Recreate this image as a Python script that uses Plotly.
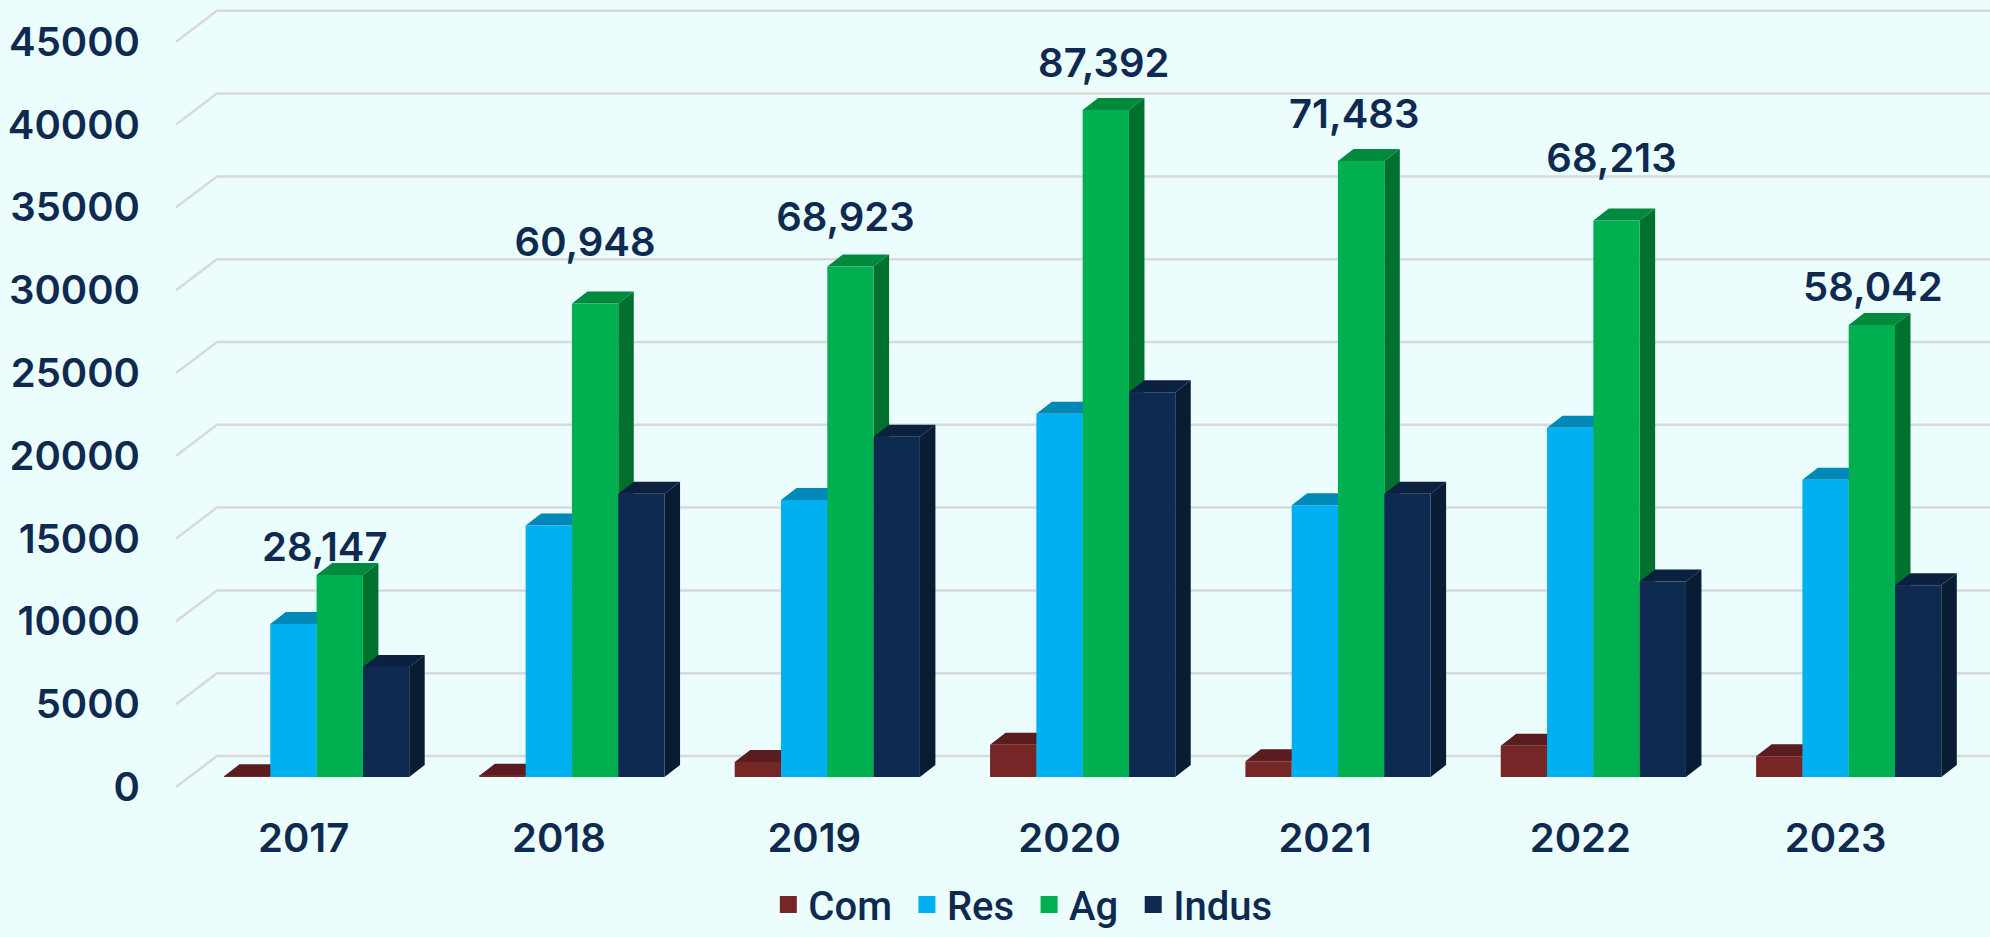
import plotly.graph_objects as go

years = [2017, 2018, 2019, 2020, 2021, 2022, 2023]
com = [50, 70, 900, 1940, 950, 1890, 1250]
res = [9240, 15180, 16720, 21930, 16410, 21090, 17950]
ag = [12200, 28600, 30830, 40280, 37200, 33600, 27300]
indus = [6650, 17100, 20550, 23240, 17100, 11810, 11580]
totals = ["28,147", "60,948", "68,923", "87,392", "71,483", "68,213", "58,042"]
label_y = [14260, 32690, 34170, 43490, 40400, 37730, 29970]
y_ticks = [0, 5000, 10000, 15000, 20000, 25000, 30000, 35000, 40000, 45000]

series = [
    ("Com", com, "#772627", "#5A1C1F", "#4A1518"),
    ("Res", res, "#00B0F0", "#0088B8", "#006F99"),
    ("Ag", ag, "#00B050", "#008A3E", "#00702F"),
    ("Indus", indus, "#0F2A50", "#0C2140", "#081C33"),
]

BG = "#EBFDFD"
INK = "#0F2A50"
FONT = "Inter"

# pixel geometry of the pseudo-3D plot
PX_PER_UNIT_Y = 82.8 / 5000
PX_PER_YEAR = 255.35
Y0_PX, PLOT_BOTTOM = 787, 800
X_LEFT, X_YEAR0 = 176, 303.6
xr = [2017 - (X_YEAR0 - X_LEFT) / PX_PER_YEAR, 2017 + (1990 - X_YEAR0) / PX_PER_YEAR]
yr = [(Y0_PX - PLOT_BOTTOM) / PX_PER_UNIT_Y, Y0_PX / PX_PER_UNIT_Y]

bar_w = 46.3 / PX_PER_YEAR
bar_start = (224 - X_YEAR0) / PX_PER_YEAR
depth_x = 15.5 / PX_PER_YEAR
depth_y = 12 * 1 / PX_PER_UNIT_Y
base = 10 / PX_PER_UNIT_Y
wall_x = 41 / PX_PER_YEAR
wall_y = 31 / PX_PER_UNIT_Y

fig = go.Figure()

# gridlines: front-left stub plus back wall
gx, gy = [], []
for t in y_ticks:
    gx += [xr[0], xr[0] + wall_x, xr[1], None]
    gy += [t, t + wall_y, t + wall_y, None]
fig.add_trace(go.Scatter(x=gx, y=gy, mode="lines", line=dict(color="#D9D9D9", width=2.5),
                         showlegend=False, hoverinfo="skip"))

# top and side faces, painted left to right
for k, (name, vals, front, top, side) in enumerate(series):
    off = bar_start + k * bar_w
    sx, sy, tx, ty = [], [], [], []
    for yr_, v in zip(years, vals):
        x0 = yr_ + off
        x1 = x0 + bar_w
        h = base + v
        sx += [x1, x1 + depth_x, x1 + depth_x, x1, x1, None]
        sy += [base, base + depth_y, h + depth_y, h, base, None]
        tx += [x0, x1, x1 + depth_x, x0 + depth_x, x0, None]
        ty += [h, h, h + depth_y, h + depth_y, h, None]
    fig.add_trace(go.Scatter(x=sx, y=sy, mode="lines", fill="toself", fillcolor=side,
                             line=dict(width=0, color=side), showlegend=False, hoverinfo="skip"))
    fig.add_trace(go.Scatter(x=tx, y=ty, mode="lines", fill="toself", fillcolor=top,
                             line=dict(width=0, color=top), showlegend=False, hoverinfo="skip"))

# front faces, on an overlaid subplot so they cover the neighbours' faces
for k, (name, vals, front, top, side) in enumerate(series):
    fig.add_trace(go.Bar(x=years, y=vals, base=base, width=bar_w, offset=bar_start + k * bar_w,
                         name=name, marker=dict(color=front, line=dict(width=0)),
                         xaxis="x2", yaxis="y2", showlegend=False))
    # legend swatch
    fig.add_trace(go.Bar(x=[None], y=[None], name=name + "\u00a0",
                         marker=dict(color=front, line=dict(width=5, color=front)),
                         xaxis="x2", yaxis="y2"))

label_x = [y + bar_start + 2.5 * bar_w + d / PX_PER_YEAR for y, d in
           zip(years, [-15, -10, -5, -2, -7, -5, 1])]
fig.add_trace(go.Scatter(x=label_x, y=label_y, text=totals, mode="text",
                         textposition="middle center",
                         textfont=dict(family=FONT, size=40, color=INK, weight=600),
                         xaxis="x2", yaxis="y2", showlegend=False, hoverinfo="skip"))

fig.update_layout(
    width=1990, height=937, paper_bgcolor=BG, plot_bgcolor=BG,
    margin=dict(l=X_LEFT, r=0, t=0, b=937 - PLOT_BOTTOM, autoexpand=False),
    barmode="overlay",
    font=dict(family=FONT, color=INK),
    xaxis=dict(range=xr, tickmode="array", tickvals=years, ticktext=[str(y) for y in years],
               showgrid=False, zeroline=False, showline=False, ticks="",
               ticklabelstandoff=11, tickfont=dict(family=FONT, size=40, color=INK, weight=600),
               fixedrange=True),
    yaxis=dict(range=yr, tickmode="array", tickvals=y_ticks, ticktext=[str(t) for t in y_ticks],
               showgrid=False, zeroline=False, showline=False, ticks="",
               ticklabelstandoff=35, tickfont=dict(family=FONT, size=40, color=INK, weight=600),
               fixedrange=True),
    xaxis2=dict(range=xr, overlaying="x", visible=False, fixedrange=True),
    yaxis2=dict(range=yr, overlaying="y", visible=False, fixedrange=True),
    legend=dict(orientation="h", x=0.5165, xref="container", xanchor="center", y=0.0, yref="container",
                yanchor="bottom", font=dict(family="Roboto", size=40, color=INK, weight=500),
                bgcolor="rgba(0,0,0,0)", itemclick=False, itemdoubleclick=False),
)

fig.write_html("out.html", config=dict(displayModeBar=False),
               post_script="document.body.style.margin='0';document.body.style.overflow='hidden';"
                           f"document.body.style.background='{BG}';")
